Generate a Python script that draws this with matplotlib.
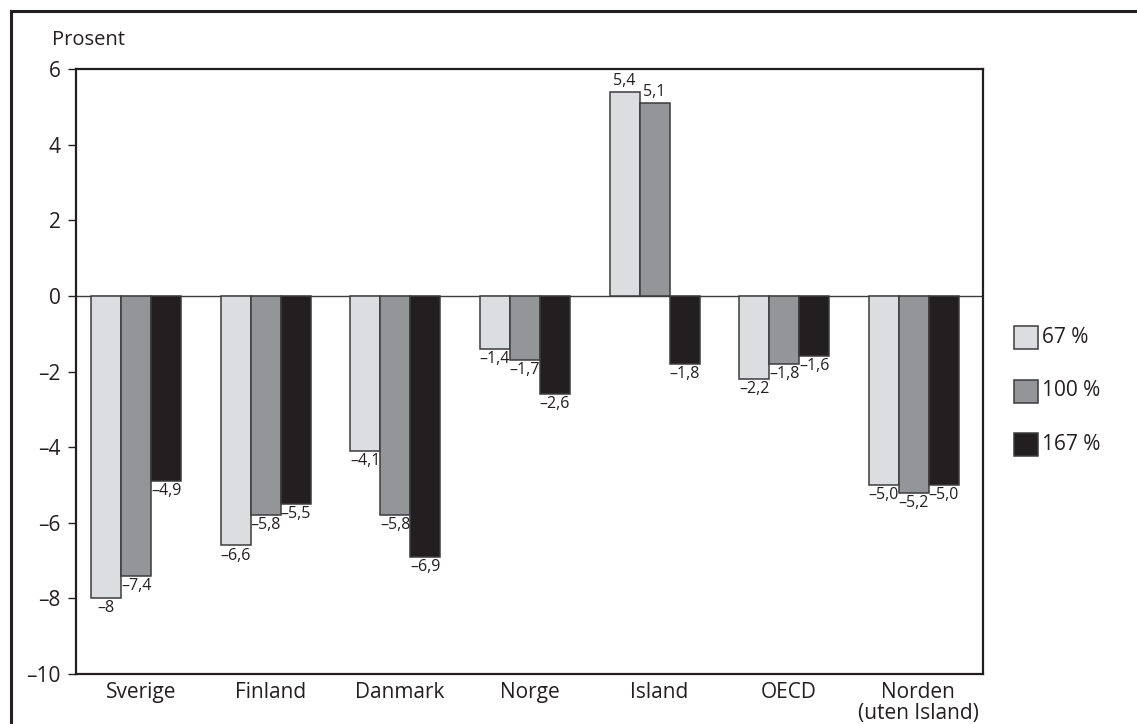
import matplotlib
matplotlib.use("Agg")
import matplotlib.pyplot as plt
from matplotlib.patches import Rectangle
from matplotlib.lines import Line2D
import numpy as np

categories = ["Sverige", "Finland", "Danmark", "Norge", "Island", "OECD", "Norden\n(uten Island)"]
series_names = ["67 %", "100 %", "167 %"]
vals_67 = [-8.0, -6.6, -4.1, -1.4, 5.4, -2.2, -5.0]
vals_100 = [-7.4, -5.8, -5.8, -1.7, 5.1, -1.8, -5.2]
vals_167 = [-4.9, -5.5, -6.9, -2.6, -1.8, -1.6, -5.0]
labels_67 = ["–8", "–6,6", "–4,1", "–1,4", "5,4", "–2,2", "–5,0"]
labels_100 = ["–7,4", "–5,8", "–5,8", "–1,7", "5,1", "–1,8", "–5,2"]
labels_167 = ["–4,9", "–5,5", "–6,9", "–2,6", "–1,8", "–1,6", "–5,0"]
yticks = [6, 4, 2, 0, -2, -4, -6, -8, -10]
ytick_labels = ["6", "4", "2", "0", "–2", "–4", "–6", "–8", "–10"]

colors = ["#dcdde0", "#939598", "#231f20"]
edge = "#3c3c3c"
plt.rcParams['font.family'] = ['Open Sans', 'DejaVu Sans']

W, H = 1137, 724
fig = plt.figure(figsize=(W / 100, H / 100), dpi=100)
ax = fig.add_axes([76 / W, 1 - 674 / H, (983 - 76) / W, (674 - 69) / H])

w = 0.2315
off = -0.035
x = np.arange(len(categories))
all_vals = [vals_67, vals_100, vals_167]
all_labels = [labels_67, labels_100, labels_167]
for j in range(3):
    xs = x + off + (j - 1) * w
    ax.bar(xs, all_vals[j], width=w, color=colors[j], edgecolor=edge, linewidth=1.1, zorder=2)
    for xi, v, lab in zip(xs, all_vals[j], all_labels[j]):
        if v >= 0:
            ax.annotate(lab, (xi, v), xytext=(0, 2), textcoords="offset points",
                        ha="center", va="bottom", fontsize=11.5, color="#231f20")
        else:
            ax.annotate(lab, (xi, v), xytext=(0, -1.5), textcoords="offset points",
                        ha="center", va="top", fontsize=11.5, color="#231f20")

ax.axhline(0, color="#3c3c3c", linewidth=1.0, zorder=1)
ax.set_xlim(-0.5, len(categories) - 0.5)
ax.set_ylim(-10, 6)
ax.set_yticks(yticks)
ax.set_yticklabels(ytick_labels)
ax.set_xticks(x)
ax.set_xticklabels(categories, linespacing=0.95)
ax.tick_params(axis="y", direction="out", length=6, width=1.0, pad=5, labelsize=15, colors="#231f20")
ax.tick_params(axis="x", length=0, pad=6, labelsize=15, colors="#231f20")
for s in ax.spines.values():
    s.set_linewidth(1.6)
    s.set_color("#231f20")

fig.text(52 / W, 1 - 40 / H, "Prosent", fontsize=14.5, ha="left", va="center", color="#231f20")

# legend
leg_y = [337.5, 391, 444]
for j in range(3):
    cy = leg_y[j]
    fig.add_artist(Rectangle((1014 / W, 1 - (cy + 11.5) / H), 24 / W, 23 / H,
                             transform=fig.transFigure, facecolor=colors[j],
                             edgecolor=edge, linewidth=1.1))
    fig.text(1042 / W, 1 - cy / H, series_names[j], fontsize=15, ha="left",
             va="center", color="#231f20")

# outer frame (top and left)
fig.add_artist(Line2D([11 / W, 1], [1 - 11 / H, 1 - 11 / H], transform=fig.transFigure,
                      color="#231f20", linewidth=2.2))
fig.add_artist(Line2D([11 / W, 11 / W], [0, 1 - 11 / H], transform=fig.transFigure,
                      color="#231f20", linewidth=2.2))

fig.savefig("out.png", dpi=100)
